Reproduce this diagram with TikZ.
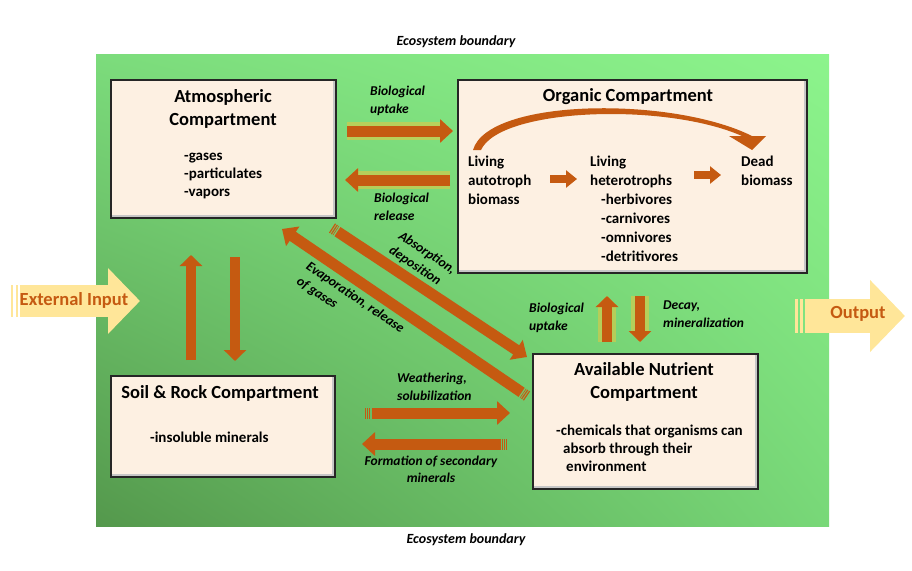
\documentclass[tikz,border=0pt]{standalone}
\usepackage{fontspec}
\setmainfont{Carlito}
\usetikzlibrary{arrows.meta,calc,shadings}
\definecolor{rust}{RGB}{197,90,17}
\definecolor{cream}{RGB}{253,240,226}
\definecolor{sand}{RGB}{255,230,153}
\definecolor{halo}{RGB}{222,200,70}
\definecolor{leafTL}{RGB}{124,220,124}
\definecolor{leafTR}{RGB}{140,244,140}
\definecolor{leafBL}{RGB}{84,152,76}
\definecolor{leafBR}{RGB}{120,216,120}

\begin{document}
\begin{tikzpicture}[x=1pt,y=-1pt,line cap=butt,
  box/.style={draw=black!85,line width=1.5pt,fill=cream,inner sep=0pt,anchor=north west,
    path picture={\draw[black!22,line width=5pt] (path picture bounding box.south west) -- (path picture bounding box.south east) -- (path picture bounding box.north east);}},
  ttl/.style={font=\fontsize{18.5}{23}\selectfont\bfseries,align=center,inner sep=0pt},
  txt/.style={font=\fontsize{15}{19}\selectfont\bfseries,align=left,inner sep=0pt,anchor=west},
  lbl/.style={font=\fontsize{13.5}{17.5}\selectfont\bfseries\itshape,align=left,inner sep=0pt},
  flow/.style={draw=rust,line width=11pt,-{Triangle[length=13pt,width=23pt]}},
  slim/.style={draw=rust,line width=9.5pt,-{Triangle[length=11pt,width=22pt]}},
  tiny/.style={draw=rust,line width=8pt,-{Triangle[length=11pt,width=17pt]}},
  glow/.style={preaction={draw=halo,draw opacity=.6,line width=18pt}},
  tail/.style={draw=rust,line width=11pt,dash pattern=on 1.2pt off 1pt}]
\useasboundingbox (0,0) rectangle (912,570);
\shade[upper left=leafTL,upper right=leafTR,lower left=leafBL,lower right=leafBR] (96,54) rectangle (829,526);

\node[box,minimum width=225,minimum height=138] (atm) at (110,79) {};
\node[box,minimum width=349,minimum height=193] (org) at (457,79) {};
\node[box,minimum width=225,minimum height=135] (avail) at (532,353) {};
\node[box,minimum width=224,minimum height=101] (soil) at (110,375) {};

\coordinate (in0) at (11,301); \coordinate (in1) at (18,301);
\coordinate (in2) at (20,301); \coordinate (in3) at (140,301);
\draw[sand,line width=32pt,dash pattern=on 2pt off 3pt] (in0) -- (in1);
\draw[sand,line width=32pt,-{Triangle[length=32pt,width=64pt]}] (in2) -- (in3);
\coordinate (out0) at (795,316); \coordinate (out1) at (803,316);
\coordinate (out2) at (805,316); \coordinate (out3) at (905,316);
\draw[sand,line width=34pt,dash pattern=on 3pt off 2pt] (out0) -- (out1);
\draw[sand,line width=34pt,-{Triangle[length=35pt,width=70pt]}] (out2) -- (out3);

\coordinate (u1) at (347,131); \coordinate (u2) at (453,131);
\coordinate (r1) at (450,180); \coordinate (r2) at (345,180);
\draw[flow,glow] (u1) -- (u2);
\draw[flow,glow] (r1) -- (r2);
\coordinate (v1) at (191,360); \coordinate (v2) at (191,255);
\coordinate (d1) at (235,257); \coordinate (d2) at (235,361);
\draw[slim] (v1) -- (v2);
\draw[slim] (d1) -- (d2);
\coordinate (n1) at (607,342); \coordinate (n2) at (607,296);
\coordinate (m1) at (640,296); \coordinate (m2) at (640,342);
\draw[slim,glow] (n1) -- (n2);
\draw[slim,glow] (m1) -- (m2);
\coordinate (a1) at (332,228); \coordinate (a2) at (527,357);
\draw[tail] (a1) -- ($(a1)!5pt!(a2)$);
\draw[flow] ($(a1)!6.5pt!(a2)$) -- (a2);
\coordinate (e1) at (527,396); \coordinate (e2) at (282,229);
\draw[tail] (e1) -- ($(e1)!5pt!(e2)$);
\draw[flow] ($(e1)!6.5pt!(e2)$) -- (e2);
\coordinate (w1) at (365,413); \coordinate (w2) at (510,413);
\draw[tail] (w1) -- ($(w1)!5pt!(w2)$);
\draw[flow] ($(w1)!6.5pt!(w2)$) -- (w2);
\coordinate (f1) at (507,444); \coordinate (f2) at (362,444);
\draw[tail] (f1) -- ($(f1)!5pt!(f2)$);
\draw[flow] ($(f1)!6.5pt!(f2)$) -- (f2);
\coordinate (o1) at (550,179); \coordinate (o2) at (577,179);
\coordinate (o3) at (694,175); \coordinate (o4) at (721,175);
\draw[tiny] (o1) -- (o2);
\draw[tiny] (o3) -- (o4);
\fill[rust] (473,150) .. controls (488,98) and (672,96) .. (752,136) -- (766,136) -- (752,150)
  -- (729,136) -- (742,136) .. controls (665,102) and (500,108) .. (481,150) -- cycle;

\node[ttl] (atmT) at (223,108.5) {Atmospheric\\Compartment};
\node[txt,font=\fontsize{15}{18}\selectfont\bfseries] (atmL) at (184,176) {-gases\\-particulates\\-vapors};
\node[ttl] (orgT) at (628,97) {Organic Compartment};
\node[txt] (auto) at (468,180.5) {Living\\autotroph\\biomass};
\node[txt] (hetero) at (590,209) {Living\\heterotrophs\\\hspace*{11pt}-herbivores\\\hspace*{11pt}-carnivores\\\hspace*{11pt}-omnivores\\\hspace*{11pt}-detritivores};
\node[txt] (dead) at (741,171) {Dead\\biomass};
\node[ttl] (availT) at (644,382) {Available Nutrient\\Compartment};
\node[txt,font=\fontsize{15}{18}\selectfont\bfseries] (availL) at (556,448.5) {-chemicals that organisms can\\\hspace*{7pt}absorb through their\\\hspace*{10pt}environment};
\node[ttl] (soilT) at (220,393) {Soil \& Rock Compartment};
\node[txt] (soilL) at (150,437) {-insoluble minerals};

\node[lbl,anchor=west] (upL) at (370,101) {Biological\\uptake};
\node[lbl,anchor=west] (relL) at (374,207) {Biological\\release};
\node[lbl,anchor=west] (weaL) at (397,387) {Weathering,\\solubilization};
\node[lbl,align=center] (forL) at (431,469.5) {Formation of secondary\\minerals};
\node[lbl,anchor=west] (upL2) at (529,318) {Biological\\uptake};
\node[lbl,anchor=west] (decL) at (663,314) {Decay,\\mineralization};
\node[lbl,rotate=-33.5] (absL1) at (427,253) {Absorption,};
\node[lbl,rotate=-33.5] (absL2) at (415,266) {deposition};
\node[lbl,rotate=-34] (evaL1) at (355,298) {Evaporation, release};
\node[lbl,rotate=-34] (evaL2) at (317,293) {of gases};
\node[lbl,font=\fontsize{14}{17}\selectfont\bfseries\itshape] (ecoT) at (456,42) {Ecosystem boundary};
\node[lbl,font=\fontsize{14}{17}\selectfont\bfseries\itshape] (ecoB) at (466,540) {Ecosystem boundary};
\node[ttl,text=rust] (inT) at (74,300) {External Input};
\node[ttl,text=rust] (outT) at (858,314) {Output};
\end{tikzpicture}
\end{document}
